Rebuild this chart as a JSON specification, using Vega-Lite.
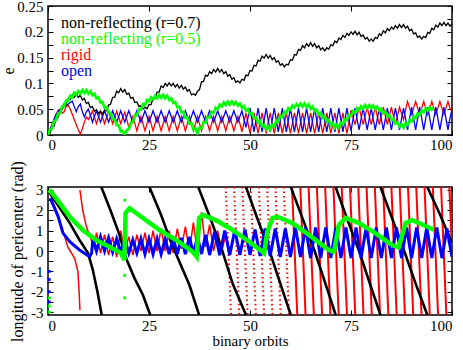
{
"$schema":"https://vega.github.io/schema/vega-lite/v6.json",
"padding":{"left":0,"top":-2,"right":0,"bottom":0},
"bounds":"flush",
"spacing":52,
"config":{
 "font":"Liberation Serif",
 "view":{"stroke":"#000000","strokeWidth":1.5},
 "axis":{"domain":false,"grid":false,"labelFont":"Liberation Serif","titleFont":"Liberation Serif","labelFontSize":15,"titleFontSize":16,"titleFontWeight":"normal","labelColor":"#000000","titleColor":"#000000","tickColor":"#000000","tickWidth":1,"tickSize":-5}
},
"datasets":{
"top":[
{"x":0,"k":0,"g":0,"r":0,"b":0},
{"x":0.5,"k":0.003,"g":0.011,"r":0.01,"b":0.01},
{"x":1,"k":0.015,"g":0.013,"r":0.02,"b":0.02},
{"x":1.5,"k":0.017,"g":0.027,"r":0.03,"b":0.03},
{"x":2,"k":0.031,"g":0.029,"r":0.04,"b":0.04},
{"x":2.5,"k":0.034,"g":0.042,"r":0.048,"b":0.045},
{"x":3,"k":0.048,"g":0.043,"r":0.05,"b":0.05},
{"x":3.5,"k":0.049,"g":0.056,"r":0.042,"b":0.052},
{"x":4,"k":0.061,"g":0.056,"r":0.045,"b":0.055},
{"x":4.5,"k":0.06,"g":0.067,"r":0.055,"b":0.058},
{"x":5,"k":0.071,"g":0.066,"r":0.058,"b":0.06},
{"x":5.5,"k":0.069,"g":0.076,"r":0.05,"b":0.063},
{"x":6,"k":0.078,"g":0.073,"r":0.04,"b":0.066},
{"x":6.5,"k":0.073,"g":0.082,"r":0.03,"b":0.055},
{"x":7,"k":0.08,"g":0.078,"r":0.02,"b":0.045},
{"x":7.5,"k":0.073,"g":0.085,"r":0.01,"b":0.055},
{"x":8,"k":0.077,"g":0.08,"r":0.002,"b":0.06},
{"x":8.5,"k":0.068,"g":0.087,"r":0.012,"b":0.045},
{"x":9,"k":0.071,"g":0.081,"r":0.025,"b":0.035},
{"x":9.5,"k":0.061,"g":0.087,"r":0.035,"b":0.045},
{"x":10,"k":0.063,"g":0.08,"r":0.03,"b":0.05},
{"x":10.5,"k":0.053,"g":0.085,"r":0.038,"b":0.038},
{"x":11,"k":0.055,"g":0.077,"r":0.046,"b":0.025},
{"x":11.5,"k":0.046,"g":0.08,"r":0.034,"b":0.036},
{"x":12,"k":0.049,"g":0.071,"r":0.022,"b":0.047},
{"x":12.5,"k":0.042,"g":0.073,"r":0.034,"b":0.036},
{"x":13,"k":0.046,"g":0.063,"r":0.046,"b":0.025},
{"x":13.5,"k":0.041,"g":0.064,"r":0.034,"b":0.036},
{"x":14,"k":0.048,"g":0.053,"r":0.022,"b":0.047},
{"x":14.5,"k":0.047,"g":0.054,"r":0.034,"b":0.036},
{"x":15,"k":0.058,"g":0.043,"r":0.046,"b":0.025},
{"x":15.5,"k":0.06,"g":0.043,"r":0.034,"b":0.036},
{"x":16,"k":0.073,"g":0.031,"r":0.022,"b":0.047},
{"x":16.5,"k":0.073,"g":0.031,"r":0.034,"b":0.036},
{"x":17,"k":0.085,"g":0.019,"r":0.046,"b":0.025},
{"x":17.5,"k":0.082,"g":0.019,"r":0.034,"b":0.036},
{"x":18,"k":0.09,"g":0.007,"r":0.022,"b":0.047},
{"x":18.5,"k":0.083,"g":0.008,"r":0.034,"b":0.036},
{"x":19,"k":0.088,"g":0,"r":0.044,"b":0.025},
{"x":19.5,"k":0.079,"g":0.01,"r":0.03,"b":0.036},
{"x":20,"k":0.081,"g":0.011,"r":0.015,"b":0.047},
{"x":20.5,"k":0.071,"g":0.024,"r":0.024,"b":0.036},
{"x":21,"k":0.073,"g":0.025,"r":0.036,"b":0.025},
{"x":21.5,"k":0.063,"g":0.038,"r":0.022,"b":0.036},
{"x":22,"k":0.064,"g":0.038,"r":0.008,"b":0.047},
{"x":22.5,"k":0.055,"g":0.05,"r":0.022,"b":0.036},
{"x":23,"k":0.057,"g":0.049,"r":0.036,"b":0.025},
{"x":23.5,"k":0.05,"g":0.06,"r":0.022,"b":0.036},
{"x":24,"k":0.054,"g":0.058,"r":0.008,"b":0.047},
{"x":24.5,"k":0.051,"g":0.068,"r":0.022,"b":0.036},
{"x":25,"k":0.059,"g":0.065,"r":0.036,"b":0.025},
{"x":25.5,"k":0.059,"g":0.073,"r":0.022,"b":0.036},
{"x":26,"k":0.07,"g":0.069,"r":0.008,"b":0.047},
{"x":26.5,"k":0.071,"g":0.076,"r":0.022,"b":0.036},
{"x":27,"k":0.083,"g":0.071,"r":0.036,"b":0.025},
{"x":27.5,"k":0.083,"g":0.078,"r":0.022,"b":0.036},
{"x":28,"k":0.095,"g":0.072,"r":0.008,"b":0.047},
{"x":28.5,"k":0.092,"g":0.078,"r":0.022,"b":0.036},
{"x":29,"k":0.1,"g":0.071,"r":0.036,"b":0.025},
{"x":29.5,"k":0.095,"g":0.076,"r":0.022,"b":0.036},
{"x":30,"k":0.101,"g":0.068,"r":0.008,"b":0.047},
{"x":30.5,"k":0.095,"g":0.071,"r":0.022,"b":0.036},
{"x":31,"k":0.1,"g":0.062,"r":0.036,"b":0.025},
{"x":31.5,"k":0.093,"g":0.064,"r":0.022,"b":0.036},
{"x":32,"k":0.098,"g":0.054,"r":0.008,"b":0.047},
{"x":32.5,"k":0.091,"g":0.055,"r":0.022,"b":0.036},
{"x":33,"k":0.096,"g":0.044,"r":0.036,"b":0.025},
{"x":33.5,"k":0.089,"g":0.045,"r":0.022,"b":0.036},
{"x":34,"k":0.093,"g":0.033,"r":0.008,"b":0.047},
{"x":34.5,"k":0.085,"g":0.034,"r":0.022,"b":0.036},
{"x":35,"k":0.088,"g":0.022,"r":0.036,"b":0.025},
{"x":35.5,"k":0.078,"g":0.023,"r":0.022,"b":0.036},
{"x":36,"k":0.08,"g":0.011,"r":0.008,"b":0.047},
{"x":36.5,"k":0.077,"g":0.013,"r":0.022,"b":0.036},
{"x":37,"k":0.085,"g":0.003,"r":0.036,"b":0.025},
{"x":37.5,"k":0.088,"g":0.014,"r":0.022,"b":0.036},
{"x":38,"k":0.103,"g":0.013,"r":0.008,"b":0.047},
{"x":38.5,"k":0.104,"g":0.025,"r":0.022,"b":0.036},
{"x":39,"k":0.116,"g":0.024,"r":0.036,"b":0.025},
{"x":39.5,"k":0.114,"g":0.035,"r":0.022,"b":0.036},
{"x":40,"k":0.123,"g":0.034,"r":0.008,"b":0.047},
{"x":40.5,"k":0.119,"g":0.045,"r":0.022,"b":0.036},
{"x":41,"k":0.127,"g":0.043,"r":0.036,"b":0.025},
{"x":41.5,"k":0.122,"g":0.053,"r":0.022,"b":0.036},
{"x":42,"k":0.129,"g":0.05,"r":0.008,"b":0.047},
{"x":42.5,"k":0.122,"g":0.059,"r":0.022,"b":0.036},
{"x":43,"k":0.127,"g":0.055,"r":0.036,"b":0.025},
{"x":43.5,"k":0.119,"g":0.063,"r":0.022,"b":0.036},
{"x":44,"k":0.123,"g":0.058,"r":0.008,"b":0.047},
{"x":44.5,"k":0.114,"g":0.065,"r":0.022,"b":0.036},
{"x":45,"k":0.117,"g":0.059,"r":0.036,"b":0.025},
{"x":45.5,"k":0.108,"g":0.065,"r":0.022,"b":0.036},
{"x":46,"k":0.111,"g":0.059,"r":0.008,"b":0.047},
{"x":46.5,"k":0.102,"g":0.064,"r":0.022,"b":0.036},
{"x":47,"k":0.105,"g":0.057,"r":0.036,"b":0.025},
{"x":47.5,"k":0.101,"g":0.061,"r":0.022,"b":0.036},
{"x":48,"k":0.108,"g":0.053,"r":0.006,"b":0.047},
{"x":48.5,"k":0.106,"g":0.056,"r":0.024,"b":0.031},
{"x":49,"k":0.116,"g":0.047,"r":0.043,"b":0.015},
{"x":49.5,"k":0.115,"g":0.05,"r":0.023,"b":0.033},
{"x":50,"k":0.125,"g":0.04,"r":0.003,"b":0.052},
{"x":50.5,"k":0.124,"g":0.042,"r":0.023,"b":0.029},
{"x":51,"k":0.135,"g":0.032,"r":0.043,"b":0.006},
{"x":51.5,"k":0.134,"g":0.034,"r":0.023,"b":0.029},
{"x":52,"k":0.145,"g":0.024,"r":0.003,"b":0.052},
{"x":52.5,"k":0.143,"g":0.027,"r":0.023,"b":0.029},
{"x":53,"k":0.153,"g":0.017,"r":0.043,"b":0.006},
{"x":53.5,"k":0.149,"g":0.02,"r":0.023,"b":0.029},
{"x":54,"k":0.156,"g":0.011,"r":0.003,"b":0.052},
{"x":54.5,"k":0.149,"g":0.017,"r":0.023,"b":0.029},
{"x":55,"k":0.154,"g":0.01,"r":0.043,"b":0.006},
{"x":55.5,"k":0.146,"g":0.02,"r":0.023,"b":0.029},
{"x":56,"k":0.15,"g":0.017,"r":0.003,"b":0.052},
{"x":56.5,"k":0.141,"g":0.028,"r":0.023,"b":0.029},
{"x":57,"k":0.144,"g":0.026,"r":0.043,"b":0.006},
{"x":57.5,"k":0.135,"g":0.037,"r":0.023,"b":0.029},
{"x":58,"k":0.138,"g":0.035,"r":0.003,"b":0.052},
{"x":58.5,"k":0.132,"g":0.045,"r":0.023,"b":0.029},
{"x":59,"k":0.137,"g":0.043,"r":0.043,"b":0.006},
{"x":59.5,"k":0.136,"g":0.052,"r":0.023,"b":0.029},
{"x":60,"k":0.146,"g":0.049,"r":0.003,"b":0.052},
{"x":60.5,"k":0.145,"g":0.057,"r":0.023,"b":0.029},
{"x":61,"k":0.156,"g":0.053,"r":0.043,"b":0.006},
{"x":61.5,"k":0.155,"g":0.06,"r":0.023,"b":0.029},
{"x":62,"k":0.166,"g":0.055,"r":0.003,"b":0.052},
{"x":62.5,"k":0.164,"g":0.061,"r":0.023,"b":0.029},
{"x":63,"k":0.173,"g":0.055,"r":0.043,"b":0.006},
{"x":63.5,"k":0.169,"g":0.061,"r":0.023,"b":0.029},
{"x":64,"k":0.177,"g":0.054,"r":0.003,"b":0.052},
{"x":64.5,"k":0.172,"g":0.059,"r":0.023,"b":0.029},
{"x":65,"k":0.179,"g":0.051,"r":0.043,"b":0.006},
{"x":65.5,"k":0.172,"g":0.055,"r":0.023,"b":0.029},
{"x":66,"k":0.177,"g":0.046,"r":0.003,"b":0.052},
{"x":66.5,"k":0.169,"g":0.049,"r":0.023,"b":0.029},
{"x":67,"k":0.173,"g":0.04,"r":0.043,"b":0.006},
{"x":67.5,"k":0.165,"g":0.043,"r":0.023,"b":0.029},
{"x":68,"k":0.169,"g":0.033,"r":0.003,"b":0.052},
{"x":68.5,"k":0.163,"g":0.036,"r":0.023,"b":0.029},
{"x":69,"k":0.169,"g":0.026,"r":0.043,"b":0.006},
{"x":69.5,"k":0.166,"g":0.029,"r":0.023,"b":0.029},
{"x":70,"k":0.175,"g":0.019,"r":0.003,"b":0.052},
{"x":70.5,"k":0.173,"g":0.023,"r":0.023,"b":0.029},
{"x":71,"k":0.182,"g":0.014,"r":0.043,"b":0.006},
{"x":71.5,"k":0.179,"g":0.02,"r":0.023,"b":0.029},
{"x":72,"k":0.188,"g":0.014,"r":0.003,"b":0.052},
{"x":72.5,"k":0.185,"g":0.024,"r":0.023,"b":0.029},
{"x":73,"k":0.193,"g":0.021,"r":0.043,"b":0.006},
{"x":73.5,"k":0.189,"g":0.031,"r":0.023,"b":0.029},
{"x":74,"k":0.197,"g":0.029,"r":0.003,"b":0.052},
{"x":74.5,"k":0.193,"g":0.039,"r":0.025,"b":0.029},
{"x":75,"k":0.2,"g":0.037,"r":0.048,"b":0.008},
{"x":75.5,"k":0.195,"g":0.046,"r":0.035,"b":0.031},
{"x":76,"k":0.201,"g":0.043,"r":0.02,"b":0.052},
{"x":76.5,"k":0.194,"g":0.052,"r":0.037,"b":0.031},
{"x":77,"k":0.199,"g":0.048,"r":0.054,"b":0.01},
{"x":77.5,"k":0.191,"g":0.056,"r":0.037,"b":0.031},
{"x":78,"k":0.194,"g":0.051,"r":0.02,"b":0.052},
{"x":78.5,"k":0.186,"g":0.058,"r":0.037,"b":0.031},
{"x":79,"k":0.189,"g":0.052,"r":0.054,"b":0.01},
{"x":79.5,"k":0.182,"g":0.058,"r":0.037,"b":0.031},
{"x":80,"k":0.186,"g":0.052,"r":0.02,"b":0.052},
{"x":80.5,"k":0.182,"g":0.057,"r":0.037,"b":0.031},
{"x":81,"k":0.189,"g":0.05,"r":0.054,"b":0.01},
{"x":81.5,"k":0.187,"g":0.055,"r":0.037,"b":0.031},
{"x":82,"k":0.196,"g":0.047,"r":0.02,"b":0.052},
{"x":82.5,"k":0.193,"g":0.051,"r":0.037,"b":0.031},
{"x":83,"k":0.202,"g":0.042,"r":0.054,"b":0.01},
{"x":83.5,"k":0.198,"g":0.045,"r":0.037,"b":0.031},
{"x":84,"k":0.206,"g":0.036,"r":0.02,"b":0.052},
{"x":84.5,"k":0.202,"g":0.039,"r":0.037,"b":0.031},
{"x":85,"k":0.209,"g":0.029,"r":0.054,"b":0.01},
{"x":85.5,"k":0.205,"g":0.032,"r":0.037,"b":0.031},
{"x":86,"k":0.212,"g":0.022,"r":0.02,"b":0.052},
{"x":86.5,"k":0.207,"g":0.025,"r":0.037,"b":0.031},
{"x":87,"k":0.214,"g":0.016,"r":0.054,"b":0.01},
{"x":87.5,"k":0.208,"g":0.021,"r":0.042,"b":0.031},
{"x":88,"k":0.214,"g":0.014,"r":0.03,"b":0.052},
{"x":88.5,"k":0.207,"g":0.023,"r":0.048,"b":0.032},
{"x":89,"k":0.211,"g":0.019,"r":0.065,"b":0.01},
{"x":89.5,"k":0.202,"g":0.029,"r":0.052,"b":0.032},
{"x":90,"k":0.205,"g":0.026,"r":0.04,"b":0.054},
{"x":90.5,"k":0.196,"g":0.036,"r":0.052,"b":0.032},
{"x":91,"k":0.198,"g":0.033,"r":0.065,"b":0.01},
{"x":91.5,"k":0.189,"g":0.042,"r":0.052,"b":0.032},
{"x":92,"k":0.192,"g":0.039,"r":0.04,"b":0.054},
{"x":92.5,"k":0.186,"g":0.048,"r":0.052,"b":0.032},
{"x":93,"k":0.191,"g":0.044,"r":0.065,"b":0.01},
{"x":93.5,"k":0.189,"g":0.052,"r":0.052,"b":0.032},
{"x":94,"k":0.199,"g":0.047,"r":0.04,"b":0.054},
{"x":94.5,"k":0.197,"g":0.054,"r":0.052,"b":0.032},
{"x":95,"k":0.207,"g":0.049,"r":0.065,"b":0.01},
{"x":95.5,"k":0.204,"g":0.053,"r":0.052,"b":0.032},
{"x":96,"k":0.213,"r":0.04,"b":0.054},
{"x":96.5,"k":0.209,"r":0.052,"b":0.032},
{"x":97,"k":0.217,"r":0.065,"b":0.01},
{"x":97.5,"k":0.212,"r":0.052,"b":0.032},
{"x":98,"k":0.218,"r":0.04,"b":0.054},
{"x":98.5,"k":0.212,"r":0.052,"b":0.032},
{"x":99,"k":0.217,"r":0.065,"b":0.01},
{"x":99.5,"k":0.211,"r":0.052,"b":0.032},
{"x":100,"k":0.216,"r":0.045,"b":0.05}
],
"blk":[
{"seg":1,"x":0.3,"y":2.9},{"seg":1,"x":1.6,"y":2.5},{"seg":1,"x":3.3,"y":2.0},{"seg":1,"x":5.4,"y":1.37},{"seg":1,"x":7.8,"y":0.54},{"seg":1,"x":9.9,"y":-0.1},{"seg":1,"x":11.1,"y":-0.93},{"seg":1,"x":12.3,"y":-2.06},{"seg":1,"x":13.3,"y":-3.14},
{"seg":2,"x":13.2,"y":3.14},{"seg":2,"x":15.6,"y":1.93},{"seg":2,"x":17.7,"y":0.79},{"seg":2,"x":19.3,"y":-0.35},{"seg":2,"x":21.4,"y":-1.33},{"seg":2,"x":23.5,"y":-2.16},{"seg":2,"x":25.3,"y":-3.14},
{"seg":3,"x":25.1,"y":3.14},{"seg":3,"x":28,"y":1.77},{"seg":3,"x":30.4,"y":0.46},{"seg":3,"x":32.5,"y":-0.52},{"seg":3,"x":35,"y":-1.67},{"seg":3,"x":37.4,"y":-3.14},
{"seg":4,"x":37.2,"y":3.14},{"seg":4,"x":40,"y":1.7},{"seg":4,"x":43,"y":0.1},{"seg":4,"x":45.7,"y":-1.6},{"seg":4,"x":49,"y":-3.14},
{"seg":5,"x":49,"y":3.14},{"seg":5,"x":52,"y":1.5},{"seg":5,"x":55,"y":-0.1},{"seg":5,"x":58,"y":-1.9},{"seg":5,"x":60.1,"y":-3.14},
{"seg":6,"x":60.1,"y":3.14},{"seg":6,"x":63,"y":1.6},{"seg":6,"x":66,"y":0},{"seg":6,"x":69,"y":-1.8},{"seg":6,"x":71.2,"y":-3.14},
{"seg":7,"x":71.2,"y":3.14},{"seg":7,"x":74,"y":1.6},{"seg":7,"x":77,"y":0},{"seg":7,"x":80,"y":-1.8},{"seg":7,"x":82.3,"y":-3.14},
{"seg":8,"x":82.3,"y":3.14},{"seg":8,"x":85,"y":1.7},{"seg":8,"x":88,"y":0.1},{"seg":8,"x":91,"y":-1.6},{"seg":8,"x":93.9,"y":-3.14},
{"seg":9,"x":93.9,"y":3.14},{"seg":9,"x":97,"y":1.8},{"seg":9,"x":100,"y":0.4}
],
"rb":[
{"seg":1,"x":0.8,"y":2.6},{"seg":1,"x":1.6,"y":2.2},{"seg":1,"x":2.6,"y":1.6},{"seg":1,"x":3.7,"y":1.0},{"seg":1,"x":4.9,"y":0.2},{"seg":1,"x":6.6,"y":-0.36},{"seg":1,"x":7.4,"y":-1.0},{"seg":1,"x":7.7,"y":-2.0},{"seg":1,"x":7.9,"y":-2.9},
{"seg":2,"x":7.9,"y":3.0},{"seg":2,"x":8.6,"y":2.0},{"seg":2,"x":9.5,"y":1.2},{"seg":2,"x":10.7,"y":0.54},{"seg":2,"x":11.5,"y":0.3},{"seg":2,"x":12,"y":0.9},{"seg":2,"x":13,"y":-0.1},{"seg":2,"x":14,"y":0.8},{"seg":2,"x":15,"y":-0.2},{"seg":2,"x":16,"y":0.7},{"seg":2,"x":17,"y":-0.3},{"seg":2,"x":18,"y":1.0},{"seg":2,"x":19,"y":0.0},{"seg":2,"x":20,"y":0.7},{"seg":2,"x":21,"y":-0.2},{"seg":2,"x":22,"y":0.8},{"seg":2,"x":23,"y":0.0},{"seg":2,"x":24,"y":0.9},{"seg":2,"x":25,"y":-0.1},{"seg":2,"x":26,"y":1.0},{"seg":2,"x":27,"y":0.0},{"seg":2,"x":28,"y":1.1},{"seg":2,"x":29,"y":0.0},{"seg":2,"x":30,"y":1.0},{"seg":2,"x":31,"y":-0.1},{"seg":2,"x":32,"y":1.1},{"seg":2,"x":33,"y":0.1},{"seg":2,"x":34,"y":1.2},{"seg":2,"x":35,"y":0.0},{"seg":2,"x":36,"y":1.4},{"seg":2,"x":37,"y":-0.1},{"seg":2,"x":38,"y":1.9},{"seg":2,"x":39,"y":0.2},{"seg":2,"x":40,"y":1.3},{"seg":2,"x":41,"y":0.0},{"seg":2,"x":42,"y":1.0},{"seg":2,"x":43,"y":0.0},{"seg":2,"x":44,"y":0.8}
],
"stA":[
{"st":1,"x":44.0,"y":3.1416},{"st":1,"x":45.3,"y":-3.1416},
{"st":2,"x":46.05,"y":3.1416},{"st":2,"x":47.35,"y":-3.1416},
{"st":3,"x":48.1,"y":3.1416},{"st":3,"x":49.4,"y":-3.1416},
{"st":4,"x":50.15,"y":3.1416},{"st":4,"x":51.45,"y":-3.1416},
{"st":5,"x":52.2,"y":3.1416},{"st":5,"x":53.5,"y":-3.1416},
{"st":6,"x":54.25,"y":3.1416},{"st":6,"x":55.55,"y":-3.1416},
{"st":7,"x":56.3,"y":3.1416},{"st":7,"x":57.6,"y":-3.1416},
{"st":8,"x":58.35,"y":3.1416},{"st":8,"x":59.65,"y":-3.1416}
],
"stB":[
{"st":9,"x":60.4,"y":3.1416},{"st":9,"x":61.7,"y":-3.1416},
{"st":10,"x":62.45,"y":3.1416},{"st":10,"x":63.75,"y":-3.1416},
{"st":11,"x":64.5,"y":3.1416},{"st":11,"x":65.8,"y":-3.1416},
{"st":12,"x":66.55,"y":3.1416},{"st":12,"x":67.85,"y":-3.1416},
{"st":13,"x":68.6,"y":3.1416},{"st":13,"x":69.9,"y":-3.1416},
{"st":14,"x":70.65,"y":3.1416},{"st":14,"x":71.95,"y":-3.1416},
{"st":15,"x":72.7,"y":3.1416},{"st":15,"x":74.0,"y":-3.1416},
{"st":16,"x":74.75,"y":3.1416},{"st":16,"x":76.05,"y":-3.1416},
{"st":17,"x":76.8,"y":3.1416},{"st":17,"x":78.1,"y":-3.1416},
{"st":18,"x":78.85,"y":3.1416},{"st":18,"x":80.15,"y":-3.1416},
{"st":19,"x":80.9,"y":3.1416},{"st":19,"x":82.2,"y":-3.1416},
{"st":20,"x":82.95,"y":3.1416},{"st":20,"x":84.25,"y":-3.1416},
{"st":21,"x":85.0,"y":3.1416},{"st":21,"x":86.3,"y":-3.1416},
{"st":22,"x":87.05,"y":3.1416},{"st":22,"x":88.35,"y":-3.1416},
{"st":23,"x":89.1,"y":3.1416},{"st":23,"x":90.4,"y":-3.1416},
{"st":24,"x":91.15,"y":3.1416},{"st":24,"x":92.45,"y":-3.1416},
{"st":25,"x":93.2,"y":3.1416},{"st":25,"x":94.5,"y":-3.1416},
{"st":26,"x":95.25,"y":3.1416},{"st":26,"x":96.55,"y":-3.1416},
{"st":27,"x":97.3,"y":3.1416},{"st":27,"x":98.6,"y":-3.1416},
{"st":28,"x":99.35,"y":3.1416},{"st":28,"x":100.65,"y":-3.1416}
],
"blu":[
{"x":0.5,"y":2.6},{"x":1.2,"y":2.3},{"x":2.5,"y":1.7},{"x":3.7,"y":0.88},{"x":5.4,"y":0.46},{"x":7.8,"y":0.05},{"x":10.3,"y":-0.28},{"x":10.8,"y":-0.1},{"x":11.1,"y":0.6},
{"x":12,"y":0.0},{"x":13,"y":0.7},{"x":14,"y":0.0},{"x":15,"y":0.65},{"x":16,"y":-0.05},{"x":17,"y":0.6},{"x":18,"y":-0.05},{"x":19,"y":0.55},{"x":20,"y":-0.1},{"x":21,"y":0.55},{"x":22,"y":-0.1},{"x":23,"y":0.6},{"x":24,"y":-0.15},{"x":25,"y":0.6},{"x":26,"y":-0.15},{"x":27,"y":0.6},{"x":28,"y":-0.15},{"x":29,"y":0.6},{"x":30,"y":-0.15},{"x":31,"y":0.65},{"x":32,"y":-0.15},{"x":33,"y":0.65},{"x":34,"y":-0.15},{"x":35,"y":0.7},{"x":36,"y":-0.15},{"x":37,"y":0.7},{"x":38,"y":-0.15},{"x":39,"y":0.8},{"x":40,"y":-0.2},
{"x":41.25,"y":0.95},{"x":42.5,"y":-0.2},{"x":43.75,"y":1.0},{"x":45,"y":-0.2},{"x":46.25,"y":1.05},{"x":47.5,"y":-0.2},{"x":48.75,"y":1.05},{"x":50,"y":-0.2},{"x":51.25,"y":1.05},{"x":52.5,"y":-0.25},{"x":53.75,"y":1.1},{"x":55,"y":-0.25},{"x":56.25,"y":1.1},{"x":57.5,"y":-0.3},{"x":58.75,"y":1.1},{"x":60,"y":-0.3},{"x":61.25,"y":1.15},{"x":62.5,"y":-0.3},{"x":63.75,"y":1.15},{"x":65,"y":-0.35},{"x":66.25,"y":1.15},{"x":67.5,"y":-0.35},{"x":68.75,"y":1.15},{"x":70,"y":-0.35},{"x":71.25,"y":1.15},{"x":72.5,"y":-0.35},{"x":73.75,"y":1.15},{"x":75,"y":-0.35},{"x":76.25,"y":1.15},{"x":77.5,"y":-0.35},{"x":78.75,"y":1.15},{"x":80,"y":-0.35},{"x":81.25,"y":1.15},{"x":82.5,"y":-0.35},{"x":83.75,"y":1.15},{"x":85,"y":-0.35},{"x":86.25,"y":1.15},{"x":87.5,"y":-0.35},{"x":88.75,"y":1.15},{"x":90,"y":-0.35},{"x":91.25,"y":1.15},{"x":92.5,"y":-0.35},{"x":93.75,"y":1.15},{"x":95,"y":-0.35},{"x":96.25,"y":1.15},{"x":97.5,"y":-0.35},{"x":98.75,"y":1.1},{"x":100,"y":-0.3}
],
"grn":[
{"x":0.2,"y":3.0},{"x":1.0,"y":2.85},{"x":2.9,"y":2.35},{"x":5.4,"y":1.68},{"x":8.6,"y":1.03},{"x":11.9,"y":0.54},{"x":15.2,"y":0.21},{"x":18.1,"y":-0.1},{"x":18.9,"y":-0.44},{"x":19.2,"y":1.87},{"x":20.2,"y":2.1},{"x":23.5,"y":1.62},{"x":27.6,"y":1.03},{"x":31.7,"y":0.54},{"x":35.8,"y":-0.03},{"x":36.8,"y":-0.28},{"x":37.4,"y":1.62},{"x":38.3,"y":1.77},{"x":41.5,"y":1.52},{"x":44.9,"y":1.13},{"x":48.1,"y":0.7},{"x":49.8,"y":0.46},{"x":53.5,"y":-0.1},{"x":54.3,"y":0.95},{"x":55.6,"y":1.62},{"x":56.8,"y":1.68},{"x":60.5,"y":1.37},{"x":64.6,"y":0.79},{"x":69.5,"y":0.05},{"x":70.8,"y":-0.05},{"x":72,"y":1.28},{"x":73.7,"y":1.62},{"x":77,"y":1.37},{"x":81,"y":0.88},{"x":85.2,"y":0.29},{"x":86.8,"y":0.17},{"x":88.5,"y":1.37},{"x":90.1,"y":1.52},{"x":95.1,"y":1.08},{"x":95.5,"y":1.05}
],
"dg":[{"x":19,"y":2.5},{"x":19,"y":-1.2},{"x":19,"y":-2.3},{"x":0.3,"y":-2.7},{"x":0.3,"y":-3.0},{"x":0.3,"y":-2.3}],
"db":[{"x":0.3,"y":-1.4},{"x":0.3,"y":-2.5},{"x":0.3,"y":-2.0},{"x":0.3,"y":-1.0}]
},
"vconcat":[
{"width":404,"height":129,
 "layer":[
  {"data":{"name":"top"},"mark":{"type":"line","strokeWidth":1.3,"clip":true},
   "encoding":{
    "x":{"field":"x","type":"quantitative","scale":{"domain":[0,100],"nice":false},"axis":{"orient":"bottom","values":[0,25,50,75,100],"title":null,"labelPadding":7}},
    "y":{"field":"r","type":"quantitative","scale":{"domain":[0,0.25],"nice":false},"axis":{"orient":"left","values":[0,0.025,0.05,0.075,0.1,0.125,0.15,0.175,0.2,0.225,0.25],"title":"e","titlePadding":0,"labelPadding":10,"labelExpr":"abs(datum.value*20-round(datum.value*20))<0.01 ? format(datum.value,'~g') : ''"}},
    "color":{"datum":"rigid","type":"nominal","scale":{"domain":["non-reflecting (r=0.7)","non-reflecting (r=0.5)","rigid","open"],"range":["#000000","#00ff00","#ff0000","#0000ff"]},
      "legend":{"orient":"none","legendX":-3,"legendY":9,"title":null,"labelFont":"Liberation Serif","labelFontSize":16,"symbolSize":0,"symbolOpacity":0,"symbolStrokeWidth":0,"labelOffset":0,"rowPadding":-9,"padding":0,
        "encode":{"labels":{"update":{"fill":{"signal":"datum.value === 'rigid' ? '#ff0000' : datum.value === 'open' ? '#0000ff' : datum.value === 'non-reflecting (r=0.5)' ? '#00ff00' : '#000000'"}}}}}}
   }},
  {"data":{"name":"top"},"mark":{"type":"line","strokeWidth":1.3,"clip":true},
   "encoding":{
    "x":{"field":"x","type":"quantitative","axis":{"orient":"top","values":[0,25,50,75,100],"labels":false,"title":null}},
    "y":{"field":"b","type":"quantitative","axis":{"orient":"right","values":[0,0.025,0.05,0.075,0.1,0.125,0.15,0.175,0.2,0.225,0.25],"labels":false,"title":null}},
    "color":{"datum":"open","type":"nominal"}
   }},
  {"data":{"name":"top"},"mark":{"type":"line","strokeWidth":1.3,"clip":true},
   "encoding":{
    "x":{"field":"x","type":"quantitative","axis":null},
    "y":{"field":"k","type":"quantitative","axis":null},
    "color":{"datum":"non-reflecting (r=0.7)","type":"nominal"}
   }},
  {"data":{"name":"top"},"mark":{"type":"line","strokeWidth":2.6,"clip":true},
   "encoding":{
    "x":{"field":"x","type":"quantitative","axis":null},
    "y":{"field":"g","type":"quantitative","axis":null},
    "color":{"datum":"non-reflecting (r=0.5)","type":"nominal"}
   }}
 ],
 "resolve":{"axis":{"x":"independent","y":"independent"}}
},
{"width":404,"height":128,
 "layer":[
  {"data":{"name":"rb"},"mark":{"type":"line","color":"#ff0000","strokeWidth":1.5,"clip":true},
   "encoding":{
    "x":{"field":"x","type":"quantitative","scale":{"domain":[0,100],"nice":false},"axis":{"orient":"bottom","values":[0,25,50,75,100],"title":"binary orbits","labelPadding":8,"titlePadding":0,"titleFontSize":15}},
    "y":{"field":"y","type":"quantitative","scale":{"domain":[-3.1416,3.1416],"nice":false,"zero":false},"axis":{"orient":"left","values":[-3,-2.5,-2,-1.5,-1,-0.5,0,0.5,1,1.5,2,2.5,3],"title":"longitude of pericenter (rad)","titlePadding":5,"labelPadding":10,"labelExpr":"datum.value % 1 == 0 ? (datum.value < 0 ? '-' + abs(datum.value) : '' + datum.value) : ''"}},
    "detail":{"field":"seg"}
   }},
  {"data":{"name":"stA"},"mark":{"type":"line","color":"#ff0000","strokeWidth":2,"strokeDash":[1.5,3],"clip":true},
   "encoding":{
    "x":{"field":"x","type":"quantitative","axis":{"orient":"top","values":[0,25,50,75,100],"labels":false,"title":null}},
    "y":{"field":"y","type":"quantitative","axis":{"orient":"right","values":[-3,-2.5,-2,-1.5,-1,-0.5,0,0.5,1,1.5,2,2.5,3],"labels":false,"title":null}},
    "detail":{"field":"st"}
   }},
  {"data":{"name":"stB"},"mark":{"type":"line","color":"#ff0000","strokeWidth":2,"clip":true},
   "encoding":{"x":{"field":"x","type":"quantitative","axis":null},"y":{"field":"y","type":"quantitative","axis":null},"detail":{"field":"st"}}},
  {"data":{"name":"blk"},"mark":{"type":"line","color":"#000000","strokeWidth":2.6,"clip":true},
   "encoding":{"x":{"field":"x","type":"quantitative","axis":null},"y":{"field":"y","type":"quantitative","axis":null},"detail":{"field":"seg"}}},
  {"data":{"name":"blu"},"mark":{"type":"line","color":"#0000ff","strokeWidth":3,"clip":true},
   "encoding":{"x":{"field":"x","type":"quantitative","axis":null},"y":{"field":"y","type":"quantitative","axis":null}}},
  {"data":{"name":"grn"},"mark":{"type":"line","color":"#00ff00","strokeWidth":4.5,"clip":true},
   "encoding":{"x":{"field":"x","type":"quantitative","axis":null},"y":{"field":"y","type":"quantitative","axis":null}}},
  {"data":{"name":"dg"},"mark":{"type":"square","color":"#00ff00","size":8,"opacity":1,"clip":true},
   "encoding":{"x":{"field":"x","type":"quantitative","axis":null},"y":{"field":"y","type":"quantitative","axis":null}}},
  {"data":{"name":"db"},"mark":{"type":"square","color":"#0000ff","size":8,"opacity":1,"clip":true},
   "encoding":{"x":{"field":"x","type":"quantitative","axis":null},"y":{"field":"y","type":"quantitative","axis":null}}}
 ],
 "resolve":{"axis":{"x":"independent","y":"independent"}}
}
]
}
